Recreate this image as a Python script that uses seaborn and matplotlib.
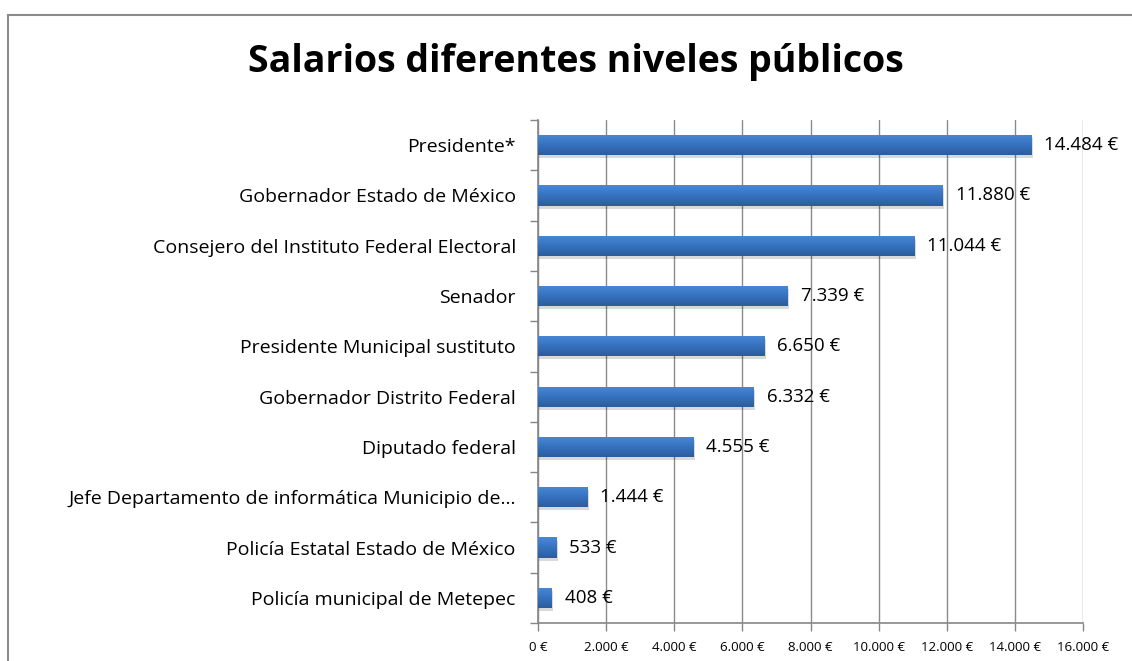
import matplotlib
matplotlib.use("Agg")
import matplotlib.pyplot as plt
import seaborn as sns
import numpy as np
import pandas as pd
from matplotlib.patches import Rectangle
from matplotlib.ticker import FixedLocator, FuncFormatter
from matplotlib.colors import LinearSegmentedColormap

categories = [
    "Presidente*",
    "Gobernador Estado de México",
    "Consejero del Instituto Federal Electoral",
    "Senador",
    "Presidente Municipal sustituto",
    "Gobernador Distrito Federal",
    "Diputado federal",
    "Jefe Departamento de informática Municipio de...",
    "Policía Estatal Estado de México",
    "Policía municipal de Metepec",
]
salaries = [14484, 11880, 11044, 7339, 6650, 6332, 4555, 1444, 533, 408]
x_ticks = [0, 2000, 4000, 6000, 8000, 10000, 12000, 14000, 16000]
title = "Salarios diferentes niveles públicos"

def eur(v):
    return f"{int(v):,}".replace(",", ".") + " €"

sns.set_theme(style="white")
plt.rcParams['font.family'] = ['Open Sans', 'DejaVu Sans']

df = pd.DataFrame({"cat": categories, "val": salaries})

fig = plt.figure(figsize=(11.32, 6.61), dpi=100)
# outer chart border
fig.patches.append(Rectangle((8/1132, -0.05), 1.2, 1 - 15/661 + 0.05,
                             transform=fig.transFigure, fill=False,
                             edgecolor="#8c8c8c", linewidth=1.5, zorder=0))
ax = fig.add_axes([538/1132, 1 - 623/661, (1083 - 538)/1132, (623 - 120)/661])

sns.barplot(data=df, x="val", y="cat", orient="h", color="#3a72bd",
            width=0.4, ax=ax, zorder=3, edgecolor="none")

# gradient + shadow on bars
grad = np.linspace(0, 1, 64).reshape(-1, 1)
cmap = LinearSegmentedColormap.from_list("g", ["#4a87d4", "#3672bf", "#2c5d9c"])
for p in list(ax.patches):
    x0, y0 = p.get_x(), p.get_y()
    w, h = p.get_width(), p.get_height()
    sh = Rectangle((x0 + 40, y0 + 0.06), w, h, facecolor="#000000", alpha=0.15,
                   edgecolor="none", zorder=2)
    ax.add_patch(sh)
    im = ax.imshow(grad, cmap=cmap, aspect="auto", extent=(x0, x0 + w, y0 + h, y0),
                   zorder=4, interpolation="bicubic")
    im.set_clip_path(p)

ax.set_xlim(0, 16000)
ax.set_ylim(9.5, -0.5)
ax.set_xlabel("")
ax.set_ylabel("")
fig.text(576/1132, 1 - 62/661, title, fontsize=27, fontweight="bold",
         ha="center", va="center", color="#000000")

ax.xaxis.set_major_locator(FixedLocator(x_ticks))
ax.xaxis.set_major_formatter(FuncFormatter(lambda v, pos: eur(v)))
ax.tick_params(axis="x", labelsize=9.5, length=6, width=1, color="#868686",
               direction="out", bottom=True, pad=7, labelcolor="#000000")
ax.grid(axis="x", color="#8a8a8a", linewidth=1, zorder=0)
ax.set_axisbelow(True)

ax.yaxis.set_minor_locator(FixedLocator([i + 0.5 for i in range(-1, 10)]))
ax.tick_params(axis="y", which="major", length=0, labelsize=14, pad=16,
               labelcolor="#000000")
ax.tick_params(axis="y", which="minor", length=6, width=1, color="#868686",
               direction="out", left=True)

for s in ["top", "right"]:
    ax.spines[s].set_visible(False)
for s in ["left", "bottom"]:
    ax.spines[s].set_color("#868686")
    ax.spines[s].set_linewidth(1.2)

for i, v in enumerate(salaries):
    ax.text(v + 380, i, eur(v), va="center", ha="left", fontsize=13.5,
            color="#000000", zorder=5, clip_on=False)

fig.savefig("out.png", dpi=100)
